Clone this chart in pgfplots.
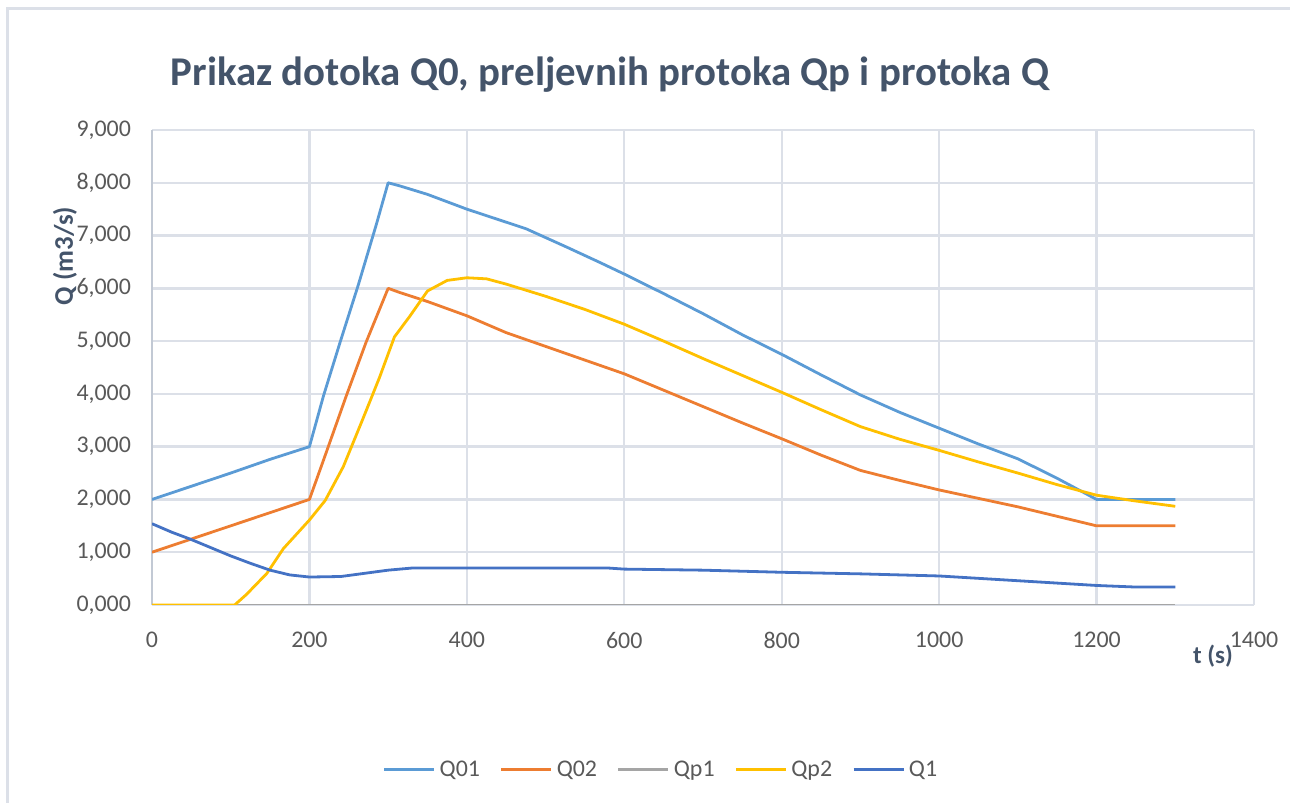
\documentclass[border=0pt]{standalone}
\usepackage{pgfplots}
\pgfplotsset{compat=1.18}
\usepackage{fontspec}
\setmainfont{Carlito}
\definecolor{cQa}{HTML}{5B9BD5}
\definecolor{cQb}{HTML}{ED7D31}
\definecolor{cQp}{HTML}{A5A5A5}
\definecolor{cQy}{HTML}{FFC000}
\definecolor{cQd}{HTML}{4472C4}
\definecolor{gridc}{HTML}{DCE0E8}
\definecolor{axc}{HTML}{C2C9D4}
\definecolor{tickc}{HTML}{595959}
\definecolor{titc}{HTML}{44546A}
\begin{document}
\begin{tikzpicture}
\useasboundingbox (0,0) rectangle (645bp,401.5bp);
\draw[gridc, line width=1.5bp] (3.5bp,0) -- (3.5bp,397bp) -- (645bp,397bp);
\node[anchor=base, font=\fontsize{20.5}{24}\selectfont\bfseries, text=titc] at (305bp,358.5bp) {Prikaz dotoka Q0, preljevnih protoka Qp i protoka Q};
\begin{axis}[
  at={(76bp,99bp)}, anchor=south west,
  scale only axis, width=551bp, height=237.5bp,
  xmin=0, xmax=1400, ymin=0, ymax=9,
  xtick={0,200,...,1400}, ytick={0,1,...,9},
  yticklabels={{0,000},{1,000},{2,000},{3,000},{4,000},{5,000},{6,000},{7,000},{8,000},{9,000}},
  /pgf/number format/assume math mode=true,
  /pgf/number format/set thousands separator={},
  major tick length=0pt,
  grid=major,
  major grid style={draw=gridc, line width=1.2bp},
  separate axis lines,
  x axis line style={draw=none},
  y axis line style={draw=axc, line width=1.3bp},
  axis lines*=left,
  tick label style={font=\fontsize{12}{14}\selectfont, text=tickc},
  xticklabel style={yshift=-10bp},
  yticklabel style={xshift=-7bp},
  xlabel={t (s)},
  xlabel style={at={(rel axis cs:0.9628,-0.107)}, anchor=center, font=\fontsize{12.5}{14}\selectfont\bfseries, text=titc},
  ylabel={Q (m3/s)},
  ylabel style={at={(rel axis cs:-0.0789,0.7347)}, anchor=center, font=\fontsize{13.5}{15}\selectfont\bfseries, text=titc},
  legend columns=5,
  legend style={draw=none, fill=none, at={(rel axis cs:0.4628,-0.347)}, anchor=center,
    font=\fontsize{12}{14}\selectfont, text=tickc,
    /tikz/every even column/.style={column sep=8bp}},
  legend image code/.code={\draw[#1] (0bp,0bp) -- (25bp,0bp);},
  every axis plot/.append style={line width=1.4bp, line join=round},
]
\addplot[cQa] coordinates {
(0,2.00) (50,2.25) (100,2.50) (150,2.76) (200,3.00) (218,3.97) (239,4.98) (262,6.06) (285,7.21) (300,8.00)
(315,7.94) (350,7.78) (400,7.50) (475,7.13) (527,6.78) (569,6.49) (600,6.27) (650,5.90) (700,5.52) (750,5.12)
(800,4.75) (850,4.36) (900,3.98) (950,3.65) (1000,3.35) (1050,3.05) (1100,2.77) (1150,2.40) (1200,2.00)
(1250,2.00) (1300,2.00)};
\addlegendentry{Q01}
\addplot[cQb] coordinates {
(0,1.00) (50,1.25) (100,1.50) (150,1.75) (200,2.00) (218,2.75) (247,3.97) (272,4.98) (300,6.00)
(315,5.92) (350,5.75) (400,5.48) (450,5.16) (500,4.90) (550,4.64) (600,4.38) (650,4.07) (700,3.76) (750,3.45)
(800,3.15) (850,2.84) (900,2.55) (950,2.36) (1000,2.18) (1050,2.02) (1100,1.86) (1150,1.68) (1200,1.50)
(1250,1.50) (1300,1.50)};
\addlegendentry{Q02}
\addplot[cQp] coordinates {(0,0) (1300,0)};
\addlegendentry{Qp1}
\addplot[cQy] coordinates {
(0,0) (105,0) (120,0.2) (146,0.60) (167,1.07) (200,1.61) (220,1.98) (243,2.62) (268,3.53) (289,4.31)
(308,5.08) (327,5.46) (350,5.95) (375,6.15) (400,6.20) (425,6.18) (450,6.08) (500,5.85) (550,5.60)
(600,5.32) (650,5.00) (700,4.67) (750,4.35) (800,4.03) (850,3.70) (900,3.38) (950,3.14) (1000,2.93)
(1050,2.71) (1100,2.50) (1150,2.28) (1200,2.08) (1250,1.97) (1300,1.87)};
\addlegendentry{Qp2}
\addplot[cQd] coordinates {
(0,1.54) (25,1.38) (50,1.24) (100,0.93) (125,0.79) (150,0.66) (175,0.57) (200,0.53) (240,0.54) (270,0.60)
(300,0.66) (330,0.70) (400,0.70) (500,0.70) (580,0.70) (600,0.68) (700,0.66) (800,0.62) (900,0.59)
(1000,0.55) (1100,0.46) (1200,0.37) (1250,0.34) (1300,0.34)};
\addlegendentry{Q1}
\end{axis}
\end{tikzpicture}
\end{document}
